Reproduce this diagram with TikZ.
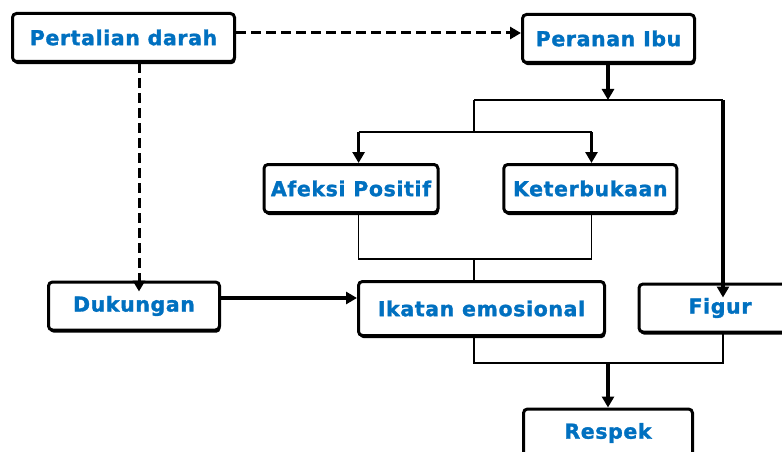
\documentclass[tikz,border=0pt]{standalone}
\usepackage{fontspec}
\setmainfont{DejaVu Sans}
\newfontfamily\lblfont[LetterSpace=3,FakeBold=1.5]{DejaVu Sans}
\usetikzlibrary{arrows.meta,shadows}
\definecolor{lblblue}{RGB}{0,112,192}
\begin{document}
\begin{tikzpicture}[x=1pt,y=-1pt,
  box/.style={draw, line width=3pt, rounded corners=4pt, fill=white,
    drop shadow={shadow xshift=1pt, shadow yshift=-2.6pt, opacity=1, fill=black},
    minimum height=48pt, inner sep=0pt,
    font=\lblfont\bfseries\fontsize{20.5}{23}\selectfont, text=lblblue},
  thickarrow/.style={line width=3.2pt, -{Triangle[length=11pt,width=12pt]}},
  brancharrow/.style={line width=2.8pt, -{Triangle[length=11pt,width=12pt]}},
  dashedarrow/.style={line width=3pt, dash pattern=on 10pt off 5pt, -{Triangle[length=11pt,width=12pt]}},
  thinline/.style={line width=1.4pt},
  thickline/.style={line width=2.4pt}]
\useasboundingbox (0,0) rectangle (782,452);
\clip (0,0) rectangle (782,452);
\fill[white] (0,0) rectangle (782,452);

% nodes
\node[box, minimum width=222pt] (pd) at (123.5,37.5) {Pertalian darah};
\node[box, minimum width=172pt] (pi) at (608.5,38.5) {Peranan Ibu};
\node[box, minimum width=174pt] (af) at (351,188.5) {Afeksi Positif};
\node[box, minimum width=173pt] (kb) at (590.3,188.5) {Keterbukaan};
\node[box, minimum width=171pt] (dk) at (134,306) {Dukungan};
\node[box, minimum width=246pt, minimum height=54pt] (ik) at (481.5,308.5) {Ikatan emosional};
\node[box, minimum width=162pt] (fg) at (720,308) {Figur};
\node[box, minimum width=169pt] (rs) at (608,433) {Respek};

% junction coordinates
\coordinate (t1) at (474,100);
\coordinate (t2) at (723,100);
\coordinate (tm) at (608,100);
\coordinate (b1) at (474,132);
\coordinate (bl) at (358.6,132);
\coordinate (br) at (591.5,132);
\coordinate (m1) at (358.6,259);
\coordinate (m2) at (591.5,259);
\coordinate (mm) at (474,259);
\coordinate (l1) at (474,363);
\coordinate (l2) at (723,363);
\coordinate (lm) at (608,363);

% dashed connectors
\draw[dashedarrow] ([yshift=4.5pt]pd.east) -- ([yshift=5.5pt]pi.west);
\draw[dashedarrow] ([xshift=15.5pt]pd.south) -- ([xshift=5pt,yshift=-11pt]dk.north);

% Peranan Ibu to branch
\draw[thickarrow] (pi.south -| tm) -- (tm);
\draw[thinline] (t1) -- (t2);
\draw[thickarrow] (t2) -- ([yshift=-15pt]fg.north -| t2);

% branch to Afeksi / Keterbukaan
\draw[thinline] (t1) -- (b1);
\draw[thickline] (bl) -- (br);
\draw[brancharrow] (bl) -- (af.north -| bl);
\draw[brancharrow] (br) -- (kb.north -| br);

% merge to Ikatan
\draw[thinline] (af.south -| m1) -- (m1) -- (m2) -- (kb.south -| m2);
\draw[thinline] (mm) -- (ik.north -| mm);

% Dukungan to Ikatan
\draw[thickarrow] ([yshift=8pt]dk.east) -- ([yshift=10.5pt]ik.west);

% merge to Respek
\draw[thinline] (ik.south -| l1) -- (l1) -- (l2) -- (fg.south -| l2);
\draw[thickarrow] (lm) -- (rs.north -| lm);
\end{tikzpicture}
\end{document}
